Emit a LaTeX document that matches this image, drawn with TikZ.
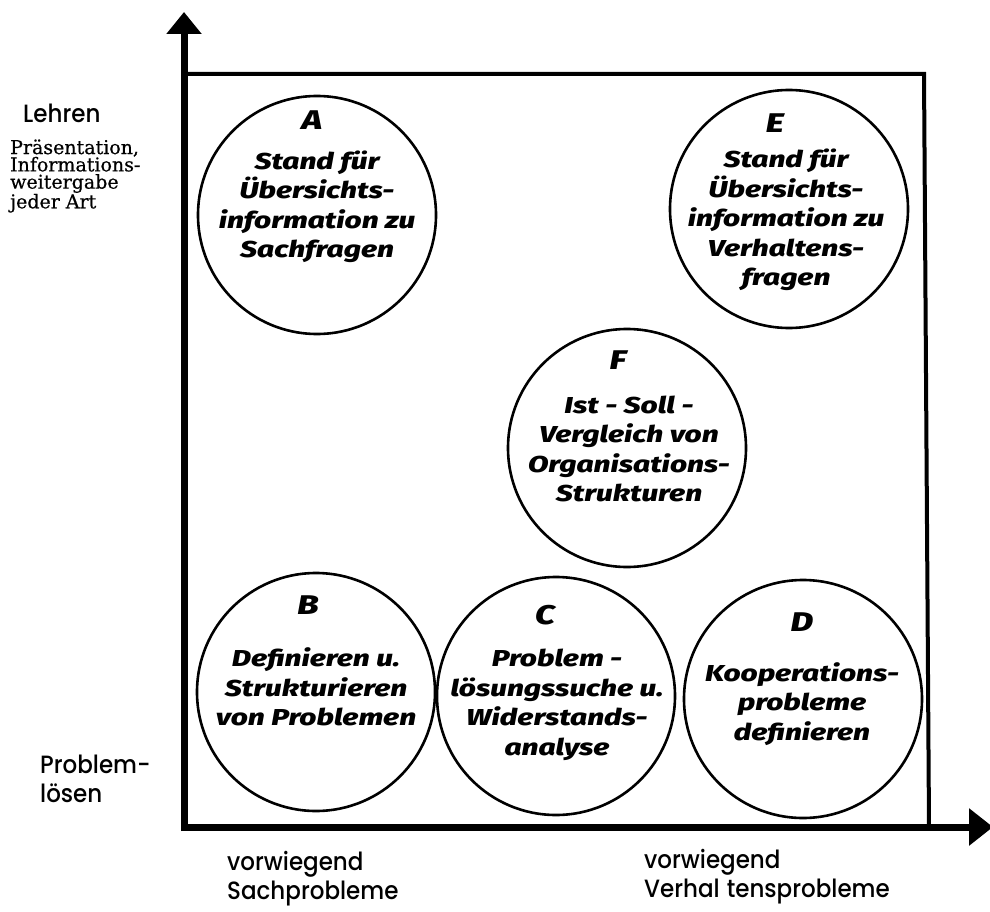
\documentclass[tikz,border=0pt]{standalone}
\usepackage{fontspec}
\usetikzlibrary{arrows.meta}
\newfontfamily\labelfont{Poppins Medium}[FakeStretch=0.92]
\newfontfamily\notefont{DejaVu Serif}[FakeBold=0.6]
\newfontfamily\handfont{Fira Sans ExtraBold Italic}[FakeStretch=1.3]

\tikzset{
  axisline/.style={line width=7pt, -{Triangle[length=22pt,width=34pt]}},
  frameline/.style={line width=4pt, line join=miter},
  topic/.style={circle, draw, line width=2.6pt, minimum size=238pt, inner sep=0pt},
  hand/.style={font=\handfont\fontsize{23}{29.5}\selectfont, align=center, inner sep=0pt},
  tag/.style={font=\handfont\fontsize{27}{27}\selectfont, inner sep=0pt},
  sidelabel/.style={font=\labelfont\fontsize{25}{29}\selectfont, align=left, inner sep=0pt},
  note/.style={font=\notefont\fontsize{19}{17.3}\selectfont, align=left, inner sep=0pt},
}

\begin{document}
\begin{tikzpicture}[x=1pt,y=-1pt]
\useasboundingbox (0,0) rectangle (990,912);

% axes
\coordinate (origin) at (184,831);
\coordinate (ytip) at (184,12);
\coordinate (xstart) at (181,827);
\coordinate (xtip) at (993,827);
\draw[axisline] (origin) -- (ytip);
\draw[axisline, -{Triangle[length=24pt,width=36pt]}] (xstart) -- (xtip);

% frame
\coordinate (ftl) at (184,74);
\coordinate (ftr) at (924,74);
\coordinate (fbr) at (929,827);
\draw[frameline] (ftl) -- (ftr) -- (fbr);

% circles
\node[topic] (cA) at (317,215) {};
\node[topic] (cE) at (789,209) {};
\node[topic] (cF) at (627,448) {};
\node[topic] (cB) at (316,692) {};
\node[topic] (cC) at (556,696) {};
\node[topic] (cD) at (803,699) {};

% letters
\node[tag] (lA) at (312,120) {A};
\node[tag] (lE) at (775,123) {E};
\node[tag] (lF) at (618,360) {F};
\node[tag] (lB) at (308,605) {B};
\node[tag] (lC) at (545,615) {C};
\node[tag] (lD) at (802,622) {D};

% texts inside circles
\node[hand] (tA) at (317,207) {Stand für\\Übersichts-\\information zu\\Sachfragen};
\node[hand] (tE) at (786,220) {Stand für\\Übersichts-\\information zu\\Verhaltens-\\fragen};
\node[hand] (tF) at (629,449) {Ist - Soll -\\Vergleich von\\Organisations-\\Strukturen};
\node[hand] (tB) at (316,687) {Definieren u.\\Strukturieren\\von Problemen};
\node[hand] (tC) at (557,705) {Problem -\\lösungssuche u.\\Widerstands-\\analyse};
\node[hand] (tD) at (802,704) {Kooperations-\\probleme\\definieren};

% axis labels
\node[sidelabel, anchor=base west] (lehren) at (23,123) {Lehren};
\node[note, anchor=west] (praes) at (10,176) {Präsentation,\\Informations-\\weitergabe\\jeder Art};
\node[sidelabel, anchor=west] (probl) at (40,779) {Problem-\\lösen};
\node[sidelabel, anchor=west] (sach) at (227,879) {vorwiegend\\Sachprobleme};
\node[sidelabel, anchor=west] (verh) at (644,877) {vorwiegend\\Verhal\kern7pt tensprobleme};
\end{tikzpicture}
\end{document}
